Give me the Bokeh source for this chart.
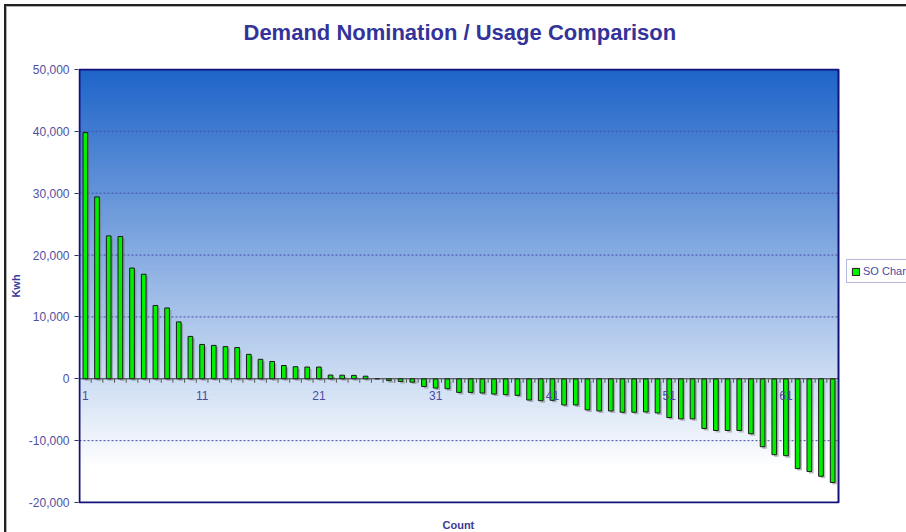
import numpy as np
from bokeh.plotting import figure
from bokeh.models import (ColumnDataSource, FixedTicker, NumeralTickFormatter,
                          Legend, LegendItem, Range1d, Title)
from bokeh.transform import dodge
from bokeh.core.properties import value
from bokeh.embed import file_html
from bokeh.resources import INLINE

# ---------------- data ----------------
title_text = "Demand Nomination / Usage Comparison"
series_name = "SO Char"
x_title = "Count"
y_title = "Kwh"

counts = list(range(1, 66))
kwh = [39800, 29400, 23100, 23000, 17900, 16900, 11850, 11450, 9200, 6850,
       5550, 5400, 5200, 5050, 3950, 3150, 2800, 2150, 1950, 1900,
       1900, 600, 580, 550, 420, 0, -300, -430, -540, -1240,
       -1500, -1610, -2200, -2200, -2300, -2470, -2570, -2680, -3430, -3540,
       -3480, -4230, -4230, -5030, -5200, -5200, -5410, -5410, -5360, -5520,
       -6270, -6480, -6480, -8040, -8360, -8360, -8360, -8890, -10980, -12270,
       -12430, -14520, -15000, -15760, -16770]
y_ticks = [-20000, -10000, 0, 10000, 20000, 30000, 40000, 50000]
x_label_counts = [1, 11, 21, 31, 41, 51, 61]

# ---------------- layout ----------------
W, H = 906, 532
ML, MR, MT, MB = 78, 0, 68, 26          # frame spans to the right edge
AREA_L, AREA_R, AREA_T, AREA_B = 79, 838, 69, 505   # plot area (px)
y0, y1 = y_ticks[0], y_ticks[-1]
x0, x1 = counts[0] - 0.5, counts[-1] + 0.5
px_x = (x1 - x0) / (AREA_R - AREA_L)
px_y = (y1 - y0) / (AREA_B - AREA_T)
xr = Range1d(x0 - (AREA_L - ML) * px_x, x0 + (W - MR - AREA_L) * px_x)
yr = Range1d(y0 - ((H - MB) - AREA_B) * px_y, y1 + (AREA_T - MT) * px_y)

p = figure(width=W, height=H, output_backend="svg", toolbar_location=None,
           x_range=xr, y_range=yr, x_axis_location=None,
           min_border_left=ML, min_border_right=MR, min_border_top=MT,
           min_border_bottom=MB, background_fill_color="white",
           background_fill_alpha=0.0, border_fill_color="white",
           border_fill_alpha=0.0)
p.outline_line_color = None
p.grid.visible = False
# outer chart border (left/top edges visible in the window)
p.styles = {"background-color": "white",
            "box-shadow": ("inset 4px 4px 0 0 #ffffff, inset 6px 6px 0 0 #222222, "
                           "inset 7px 7px 0 0 #b0b0b0")}

# gradient background of the plot area (blue at top fading to white)
n = 256
t = np.linspace(0.0, 1.0, n)[:, None]          # 0 = bottom, 1 = top
s = np.clip((1.0 - t) / 0.92, 0.0, 1.0)         # 0 = top colour, 1 = white
top_c = np.array([30, 100, 200], dtype=float)
bot_c = np.array([255, 255, 255], dtype=float)
img = np.empty((n, 2), dtype=np.uint32)
view = img.view(dtype=np.uint8).reshape((n, 2, 4))
for k in range(3):
    view[:, :, k] = np.round(top_c[k] + (bot_c[k] - top_c[k]) * s).astype(np.uint8)
view[:, :, 3] = 255
p.image_rgba(image=[img], x=x0, y=y0, dw=x1 - x0, dh=y1 - y0, level="image")

# dashed horizontal grid lines inside the plot area
grid_y = [v for v in y_ticks if v not in (y0, y1, 0)]
p.segment(x0=[x0] * len(grid_y), y0=grid_y, x1=[x1] * len(grid_y), y1=grid_y,
          line_color="#4848a8", line_dash="2 2", line_width=1)

# title (the spacer title sits between it and the plot area)
p.title.text = title_text
p.title.align = "left"
p.title.offset = 165
p.title.vertical_align = "bottom"
p.title.standoff = 0
p.title.text_font = "Liberation Sans"
p.title.text_font_size = "22px"
p.title.text_font_style = "bold"
p.title.text_color = "#333399"
p.add_layout(Title(text=" ", text_font_size="1px", standoff=21), "above")

# x-axis title below the plot area
p.add_layout(Title(text=" ", text_font_size="1px", standoff=12), "below")
p.add_layout(Title(text=x_title, align="left", offset=364,
                   vertical_align="top", standoff=0,
                   text_font="Liberation Sans", text_font_size="11px",
                   text_font_style="bold", text_color="#3a3a98"), "below")

# y axis
ya = p.yaxis[0]
ya.ticker = FixedTicker(ticks=y_ticks)
ya.formatter = NumeralTickFormatter(format="0,0")
ya.major_label_text_font = "Liberation Sans"
ya.major_label_text_font_size = "12px"
ya.major_label_text_color = "#5050a0"
ya.axis_line_color = None
ya.major_tick_out = 4
ya.major_tick_in = 0
ya.major_tick_line_color = "#303070"
ya.minor_tick_line_color = None
ya.major_label_standoff = 5
ya.axis_label = y_title
ya.axis_label_text_font = "Liberation Sans"
ya.axis_label_text_font_size = "11px"
ya.axis_label_text_font_style = "bold"
ya.axis_label_text_color = "#3a3a98"
ya.axis_label_standoff = 4

# bars (with a soft drop shadow)
src = ColumnDataSource(dict(x=counts, top=kwh))
p.vbar(x=dodge("x", 2 * px_x, range=p.x_range), top=dodge("top", -2 * px_y),
       bottom=-2 * px_y, width=0.4, source=src,
       fill_color="#7a7a7a", fill_alpha=0.5, line_color=None)
bars = p.vbar(x="x", top="top", bottom=0, width=0.4, source=src,
              fill_color="#00f000", line_color="#1a1a1a", line_width=1)

# zero line with ticks between categories and count labels
p.segment(x0=[x0], y0=[0], x1=[x1], y1=[0], line_color="#333333", line_width=1)
tick_x = [c - 0.5 for c in counts] + [counts[-1] + 0.5]
p.segment(x0=tick_x, y0=[0] * len(tick_x), x1=tick_x, y1=[-4 * px_y] * len(tick_x),
          line_color="#555555", line_width=1)
p.text(x=x_label_counts, y=[0] * len(x_label_counts),
       text=[str(c) for c in x_label_counts],
       text_align="center", text_baseline="top", y_offset=12,
       text_font=value("Liberation Sans"), text_font_size="12px",
       text_color="#4a4aa0")

# plot-area border
p.quad(left=[x0], right=[x1], bottom=[y0], top=[y1], fill_color=None,
       line_color="#12127a", line_width=2)

# legend right of the plot area (its box runs past the window edge)
legend = Legend(items=[LegendItem(label=series_name, renderers=[bars])],
                location=(846 - ML, (H - MB) - 286))
legend.background_fill_color = "white"
legend.background_fill_alpha = 1.0
legend.border_line_color = "#7070b8"
legend.border_line_width = 1
legend.label_text_font = "Liberation Sans"
legend.label_text_font_size = "11px"
legend.label_text_color = "#4a4aa0"
legend.glyph_width = 9
legend.glyph_height = 9
legend.label_height = 14
legend.label_width = 60
legend.label_standoff = 3
legend.padding = 4
legend.margin = 0
legend.spacing = 0
p.add_layout(legend)

open("out.html", "w").write(file_html(p, INLINE))
